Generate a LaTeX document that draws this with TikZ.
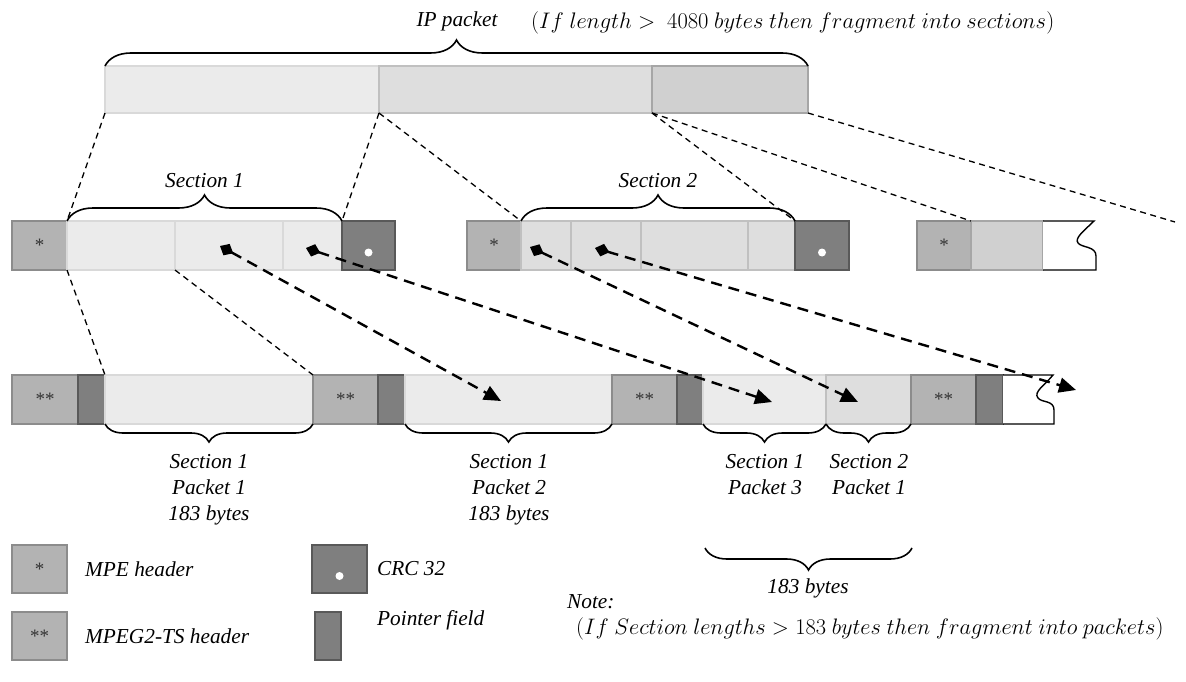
\documentclass[tikz,border=0pt]{standalone}
\usepackage{graphicx}
\usepackage{fontspec}
\setmainfont{Liberation Serif}
\usetikzlibrary{arrows.meta,decorations.pathreplacing}
\definecolor{PktLight}{HTML}{EBEBEB}
\definecolor{PktLightLine}{HTML}{D9D9D9}
\definecolor{PktMid}{HTML}{DEDEDE}
\definecolor{PktMidLine}{HTML}{C0C0C0}
\definecolor{PktDark}{HTML}{D0D0D0}
\definecolor{PktDarkLine}{HTML}{A6A6A6}
\definecolor{HdrFill}{HTML}{B3B3B3}
\definecolor{HdrLine}{HTML}{8C8C8C}
\definecolor{CrcFill}{HTML}{7F7F7F}
\definecolor{CrcLine}{HTML}{595959}

\begin{document}
\begin{tikzpicture}[x=1pt, y=-1pt,
  cell/.style={anchor=north west, inner sep=0pt, outer sep=0pt,
               line width=1.4pt, minimum height=49pt},
  seclight/.style={cell, fill=PktLight, draw=PktLightLine},
  secmid/.style={cell, fill=PktMid, draw=PktMidLine},
  secdark/.style={cell, fill=PktDark, draw=PktDarkLine},
  hdr/.style={cell, fill=HdrFill, draw=HdrLine,
              font=\fontsize{19}{19}\selectfont, text=black!80},
  crc/.style={cell, fill=CrcFill, draw=CrcLine,
              path picture={\fill[white] ([yshift=-7pt]path picture bounding box.center) circle (4pt);}},
  ptr/.style={cell, fill=CrcFill, draw=CrcLine},
  torn/.style={fill=white, draw=black, line width=1.4pt},
  frag/.style={line width=1.3pt, dash pattern=on 6pt off 4.5pt},
  ptrarrow/.style={line width=2.4pt, dash pattern=on 11pt off 7pt,
                   {Diamond[length=15pt,width=13pt]}-{Triangle[length=17pt,width=15pt]}},
  brc/.style={decorate, decoration={brace, amplitude=26pt}, line width=1.6pt},
  brcdown/.style={decorate, decoration={brace, amplitude=18pt}, line width=1.6pt},
  lbl/.style={font=\fontsize{21.3}{26}\selectfont\itshape, inner sep=1pt},
  rule/.style={font=\fontsize{20.74}{26}\selectfont, inner sep=1pt, anchor=west}
]
  \useasboundingbox (0,0) rectangle (1186,682);

  % IP packet
  \node[seclight, minimum width=274pt, minimum height=47pt] (ipA) at (105,66) {};
  \node[secmid, minimum width=273pt, minimum height=47pt] (ipB) at (379,66) {};
  \node[secdark, minimum width=156pt, minimum height=47pt] (ipC) at (652,66) {};

  % sections
  \node[hdr, minimum width=55pt] (mpeA) at (12,221) {*};
  \node[seclight, minimum width=108pt] (s1a) at (67,221) {};
  \node[seclight, minimum width=108pt] (s1b) at (175,221) {};
  \node[seclight, minimum width=59pt] (s1c) at (283,221) {};
  \node[crc, minimum width=53pt] (crcA) at (342,221) {};
  \node[hdr, minimum width=54pt] (mpeB) at (467,221) {*};
  \node[secmid, minimum width=50pt] (s2a) at (521,221) {};
  \node[secmid, minimum width=70pt] (s2b) at (571,221) {};
  \node[secmid, minimum width=107pt] (s2c) at (641,221) {};
  \node[secmid, minimum width=47pt] (s2d) at (748,221) {};
  \node[crc, minimum width=54pt] (crcB) at (795,221) {};
  \node[hdr, minimum width=54pt] (mpeC) at (917,221) {*};
  \node[secdark, minimum width=72pt] (s3a) at (971,221) {};
  \path[torn] (s3a.north east) -- (1094,221)
    .. controls (1085,230) and (1074,238) .. (1078,243)
    .. controls (1082,248) and (1096,246) .. (1096,256)
    -- (1096,270) -- (s3a.south east);

  % TS packets
  \node[hdr, minimum width=66pt] (tsA) at (12,375) {**};
  \node[ptr, minimum width=27pt] (ptA) at (78,375) {};
  \node[seclight, minimum width=208pt] (p1) at (105,375) {};
  \node[hdr, minimum width=65pt] (tsB) at (313,375) {**};
  \node[ptr, minimum width=27pt] (ptB) at (378,375) {};
  \node[seclight, minimum width=207pt] (p2) at (405,375) {};
  \node[hdr, minimum width=65pt] (tsC) at (612,375) {**};
  \node[ptr, minimum width=26pt] (ptC) at (677,375) {};
  \node[seclight, minimum width=123pt] (p3) at (703,375) {};
  \node[secmid, minimum width=85pt] (p4) at (826,375) {};
  \node[hdr, minimum width=65pt] (tsD) at (911,375) {**};
  \node[ptr, minimum width=27pt] (ptD) at (976,375) {};
  \path[torn] (ptD.north east) -- (1053,375)
    .. controls (1045,385) and (1033,392) .. (1038,398)
    .. controls (1042,403) and (1054,400) .. (1054,410)
    -- (1054,424) -- (ptD.south east);

  % fragmentation lines
  \coordinate (cut) at (1175,222);
  \draw[frag] (ipA.south west) -- (s1a.north west);
  \draw[frag] (ipA.south east) -- (s1c.north east);
  \draw[frag] (ipB.south west) -- (s2a.north west);
  \draw[frag] (ipB.south east) -- (s2d.north east);
  \draw[frag] (ipC.south west) -- (s3a.north west);
  \draw[frag] (ipC.south east) -- (cut);
  \draw[frag] (s1a.south west) -- (p1.north west);
  \draw[frag] (s1a.south east) -- (p1.north east);

  % pointers
  \coordinate (dA) at (220,246);
  \coordinate (dB) at (306,248);
  \coordinate (dC) at (530,247);
  \coordinate (dD) at (595,248);
  \coordinate (hA) at (501,401);
  \coordinate (hB) at (772,402);
  \coordinate (hC) at (858,402);
  \coordinate (hD) at (1076,390);
  \draw[ptrarrow] (dA) -- (hA);
  \draw[ptrarrow] (dB) -- (hB);
  \draw[ptrarrow] (dC) -- (hC);
  \draw[ptrarrow] (dD) -- (hD);

  % braces
  \draw[brc] (ipA.north west) -- (ipC.north east);
  \draw[brc] (s1a.north west) -- (s1c.north east);
  \draw[brc] (s2a.north west) -- (s2d.north east);
  \draw[brcdown] (p1.south east) -- (p1.south west);
  \draw[brcdown] (p2.south east) -- (p2.south west);
  \draw[brcdown] (p3.south east) -- (p3.south west);
  \draw[brcdown] (p4.south east) -- (p4.south west);
  \draw[brcdown, decoration={amplitude=22pt}] (912,548) -- (705,548);

  % labels
  \node[lbl] (iplbl) at (457,21) {IP packet};
  \node[rule] (iprule) at (530,23)
    {\scalebox{1.085}{$(If\ length >\ 4080\ bytes\ then\ fragment\ into\ sections)$}};
  \node[lbl] (sec1lbl) at (204.5,181) {Section 1};
  \node[lbl] (sec2lbl) at (658,181) {Section 2};
  \node[lbl, align=center, anchor=north] (p1lbl) at (209,453) {Section 1\\Packet 1\\183 bytes};
  \node[lbl, align=center, anchor=north] (p2lbl) at (509,453) {Section 1\\Packet 2\\183 bytes};
  \node[lbl, align=center, anchor=north] (p3lbl) at (765,453) {Section 1\\Packet 3};
  \node[lbl, align=center, anchor=north] (p4lbl) at (869,453) {Section 2\\Packet 1};
  \node[lbl] (bytelbl) at (808,588) {183 bytes};

  % key
  \node[hdr, minimum width=55pt, minimum height=48pt] (keyMpe) at (12,545) {*};
  \node[hdr, minimum width=55pt, minimum height=48pt] (keyTs) at (12,612) {**};
  \node[crc, minimum width=55pt, minimum height=48pt] (keyCrc) at (312,545) {};
  \node[ptr, minimum width=26pt, minimum height=48pt] (keyPtr) at (315,612) {};
  \node[lbl, anchor=west] (keyMpeLbl) at (84,569) {MPE header};
  \node[lbl, anchor=west] (keyTsLbl) at (84,636) {MPEG2-TS header};
  \node[lbl, anchor=west] (keyCrcLbl) at (376,569) {CRC 32};
  \node[lbl, anchor=west] (keyPtrLbl) at (376,620) {Pointer field};
  \node[lbl, anchor=west] (notelbl) at (566,602) {Note:};
  \node[rule] (noterule) at (575,629)
    {\scalebox{1.08}{$(If\ Section\ lengths > 183\ bytes\ then\ fragment\ into\ packets)$}};
\end{tikzpicture}
\end{document}
